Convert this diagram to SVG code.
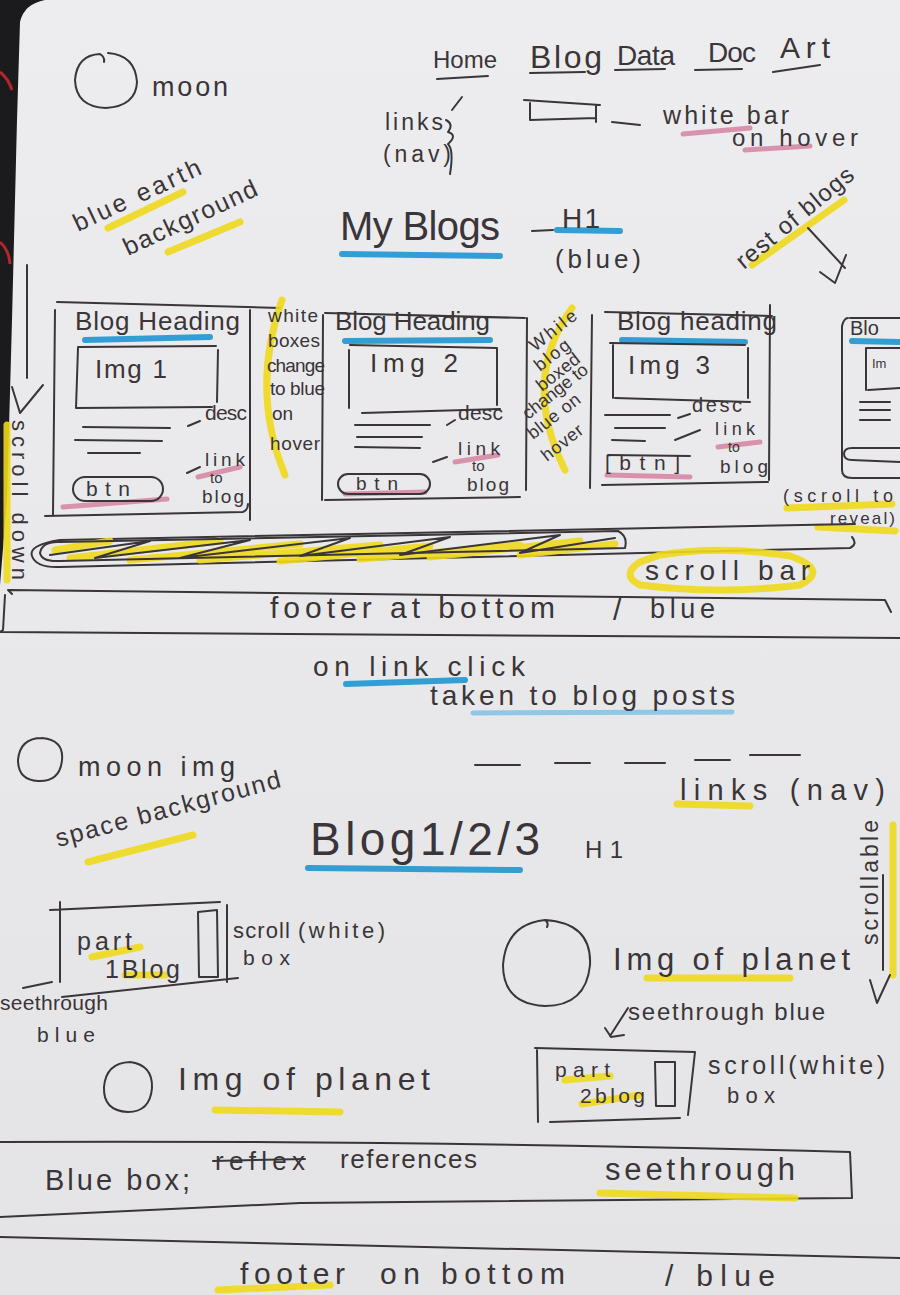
<svg xmlns="http://www.w3.org/2000/svg" width="900" height="1295" viewBox="0 0 900 1295">
  <defs>
    <linearGradient id="paper" x1="0" y1="0" x2="0" y2="1">
      <stop offset="0" stop-color="#ededef"/>
      <stop offset="1" stop-color="#e4e4e6"/>
    </linearGradient>
    <style>
      .ink{fill:none;stroke:#3a3538;stroke-width:2;stroke-linecap:round;stroke-linejoin:round}
      .t{font-family:"Liberation Sans","DejaVu Sans",sans-serif;fill:#3a3538}
      .hy{fill:none;stroke:#f0d81c;stroke-width:7;stroke-linecap:round;opacity:.9}
      .hb{fill:none;stroke:#1e96d2;stroke-width:6;stroke-linecap:round;opacity:.9}
      .hl{fill:none;stroke:#7dc2e3;stroke-width:5;stroke-linecap:round;opacity:.85}
      .hp{fill:none;stroke:#d47c9c;stroke-width:5;stroke-linecap:round;opacity:.8}
    </style>
  </defs>

  <!-- paper and table edge -->
  <rect width="900" height="1295" fill="url(#paper)"/>
  <path d="M0 0 L45 0 Q24 4 20 22 L17 120 L12 320 L7 500 L0 585 Z" fill="#1b1a1c"/>
  <path d="M0 72 q8 6 12 18 M0 242 q9 8 10 22" stroke="#b3262b" stroke-width="3" fill="none"/>

  <!-- header: moon + nav -->
  <g id="moon-top">
    <path class="ink" d="M108 53 Q135 55 137 82 Q136 106 106 108 Q76 107 75 80 Q77 55 100 54 q5 3 4 8"/>
    <text class="t" x="152" y="96" font-size="27" textLength="76">moon</text>
  </g>
  <g id="nav">
    <text class="t" x="433" y="68" font-size="24" textLength="64">Home</text>
    <path class="ink" d="M437 79 L488 76"/>
    <text class="t" x="530" y="68" font-size="32" textLength="72">Blog</text>
    <path class="ink" d="M530 73 L585 72"/>
    <text class="t" x="617" y="65" font-size="28" textLength="58">Data</text>
    <path class="ink" d="M615 70 L665 69"/>
    <text class="t" x="708" y="62" font-size="28" textLength="48">Doc</text>
    <path class="ink" d="M695 70 L742 69"/>
    <text class="t" x="780" y="58" font-size="30" textLength="50">Art</text>
    <path class="ink" d="M773 72 L820 65"/>
  </g>
  <g id="nav-label">
    <path class="ink" d="M462 97 L452 110 M446 120 q8 4 2 12 q10 3 0 12 q6 6 2 30"/>
    <text class="t" x="385" y="130" font-size="23" textLength="58">links</text>
    <text class="t" x="383" y="162" font-size="23" textLength="68">(nav)</text>
  </g>
  <g id="hover-bar">
    <path class="ink" d="M524 100 L600 105 M530 103 L530 120 L596 118 M596 105 L596 122 M612 122 L640 125"/>
    <path class="hp" d="M683 134 L750 128 M745 150 L810 146"/>
    <text class="t" x="663" y="124" font-size="25" textLength="126">white bar</text>
    <text class="t" x="732" y="146" font-size="24" textLength="126">on hover</text>
  </g>
  <g id="earth-note">
    <path class="hy" d="M108 228 L183 192 M168 252 L240 222"/>
    <text class="t" font-size="25" textLength="138" transform="translate(78 232) rotate(-25)">blue earth</text>
    <text class="t" font-size="25" textLength="145" transform="translate(128 256) rotate(-25)">background</text>
  </g>
  <g id="title">
    <path class="hb" d="M342 254 L500 256" stroke-width="7"/>
    <text class="t" x="340" y="240" font-size="40" textLength="160">My Blogs</text>
    <path class="ink" d="M532 231 L553 230"/>
    <path class="hb" d="M557 230 L620 231"/>
    <text class="t" x="562" y="228" font-size="28" textLength="38">H1</text>
    <text class="t" x="555" y="268" font-size="26" textLength="86">(blue)</text>
  </g>
  <g id="rest-note">
    <path class="hy" d="M752 265 L844 200"/>
    <text class="t" font-size="24" textLength="145" transform="translate(744 270) rotate(-39.6)">rest of blogs</text>
  </g>

  <!-- blog cards row -->
  <g id="card-1">
    <path class="ink" d="M57 302 L280 308 M55 310 L53 515 M45 516 L243 512 q5 -2 5 -8 M250 310 L250 520"/>
    <path class="hb" d="M85 340 L210 337"/>
    <text class="t" x="75" y="330" font-size="26" textLength="165">Blog Heading</text>
    <path class="ink" d="M78 347 L216 346 M218 350 L217 402 M78 348 L76 408 L212 407"/>
    <text class="t" x="95" y="378" font-size="26" textLength="72">Img 1</text>
    <path class="ink" d="M83 427 L170 428 M75 440 L162 441 M88 453 L140 453"/>
    <path class="ink" d="M188 426 L200 421"/>
    <text class="t" x="205" y="420" font-size="21" textLength="42">desc</text>
    <path class="hp" d="M63 507 L167 499" stroke-width="6"/>
    <rect class="ink" x="73" y="477" width="90" height="24" rx="12"/>
    <text class="t" x="86" y="496" font-size="21" textLength="44">btn</text>
    <path class="ink" d="M187 473 L200 467"/>
    <path class="hp" d="M198 477 L240 467"/>
    <text class="t" x="205" y="466" font-size="19" textLength="40">link</text>
    <text class="t" x="210" y="483" font-size="15">to</text>
    <text class="t" x="202" y="503" font-size="19" textLength="42">blog</text>
  </g>
  <g id="note-1">
    <path class="hy" d="M282 300 Q250 390 285 475" stroke-width="5"/>
    <text class="t" x="268" y="322" font-size="19" textLength="50">white</text>
    <text class="t" x="268" y="347" font-size="19" textLength="52">boxes</text>
    <text class="t" x="267" y="372" font-size="19" textLength="58">change</text>
    <text class="t" x="270" y="395" font-size="19" textLength="55">to blue</text>
    <text class="t" x="272" y="420" font-size="19">on</text>
    <text class="t" x="270" y="450" font-size="19" textLength="50">hover</text>
  </g>
  <g id="card-2">
    <path class="ink" d="M323 315 L322 500 M325 313 L525 318 M527 318 L526 490 M325 500 L520 497"/>
    <path class="hb" d="M345 341 L490 340"/>
    <text class="t" x="335" y="330" font-size="26" textLength="155">Blog Heading</text>
    <path class="ink" d="M350 345 L497 348 L497 405 M349 350 L349 408"/>
    <text class="t" x="370" y="372" font-size="26" textLength="88">Img 2</text>
    <path class="ink" d="M362 413 L500 409 M355 425 L430 425 M357 437 L422 437 M355 447 L420 448"/>
    <path class="ink" d="M447 425 L455 420"/>
    <text class="t" x="458" y="420" font-size="21" textLength="45">desc</text>
    <path class="ink" d="M433 462 L447 457"/>
    <path class="hp" d="M455 462 L498 455"/>
    <text class="t" x="458" y="455" font-size="19" textLength="42">link</text>
    <text class="t" x="472" y="471" font-size="15">to</text>
    <text class="t" x="467" y="491" font-size="19" textLength="42">blog</text>
    <path class="hp" d="M345 494 L425 492"/>
    <rect class="ink" x="338" y="474" width="92" height="20" rx="10"/>
    <text class="t" x="356" y="490" font-size="19" textLength="42">btn</text>
  </g>
  <g id="note-2">
    <path class="hy" d="M572 308 Q520 380 565 470" stroke-width="5"/>
    <g class="t" font-size="18">
      <text textLength="55" transform="translate(535 352) rotate(-38)">While</text>
      <text textLength="40" transform="translate(540 372) rotate(-38)">blog</text>
      <text textLength="50" transform="translate(542 392) rotate(-38)">boxed</text>
      <text textLength="78" transform="translate(528 420) rotate(-38)">change to</text>
      <text textLength="62" transform="translate(533 440) rotate(-38)">blue on</text>
      <text textLength="48" transform="translate(547 462) rotate(-38)">hover</text>
    </g>
  </g>
  <g id="card-3">
    <path class="ink" d="M592 315 L590 488 M605 312 L772 316 M770 305 L769 480 M602 485 L768 482"/>
    <path class="hb" d="M622 340 L745 342"/>
    <text class="t" x="617" y="330" font-size="26" textLength="160">Blog heading</text>
    <path class="ink" d="M610 343 L745 345 M613 345 L613 398 M748 348 L748 398 M615 398 L750 402"/>
    <text class="t" x="628" y="374" font-size="26" textLength="82">Img 3</text>
    <path class="ink" d="M605 415 L670 415 M615 428 L665 428 M612 440 L645 441"/>
    <path class="ink" d="M678 418 L690 414"/>
    <text class="t" x="692" y="412" font-size="20" textLength="50">desc</text>
    <path class="ink" d="M675 440 L700 430"/>
    <path class="hp" d="M718 447 L760 442"/>
    <text class="t" x="715" y="435" font-size="18" textLength="40">link</text>
    <text class="t" x="728" y="452" font-size="14">to</text>
    <text class="t" x="720" y="473" font-size="19" textLength="48">blog</text>
    <path class="ink" d="M608 455 L690 456"/>
    <path class="hp" d="M607 475 L690 477"/>
    <text class="t" x="605" y="470" font-size="21" textLength="75">[btn]</text>
  </g>
  <g id="card-4">
    <path class="ink" d="M848 318 q-4 0 -6 8 L842 470 q0 8 10 8 L900 478 M850 318 L900 318"/>
    <path class="hb" d="M852 341 L900 342"/>
    <text class="t" x="850" y="335" font-size="20">Blo</text>
    <path class="ink" d="M866 348 L900 348 M866 348 L866 390 M868 390 L900 388"/>
    <text class="t" x="872" y="368" font-size="13">Im</text>
    <path class="ink" d="M860 402 L890 402 M860 410 L890 410 M860 420 L890 420 M900 448 L852 448 q-8 0 -8 6 q0 6 8 6 L900 462"/>
  </g>
  <g id="reveal-note">
    <path class="hy" d="M787 508 L892 504 M818 527 L895 531"/>
    <text class="t" x="783" y="502" font-size="18" textLength="110">(scroll to</text>
    <text class="t" x="830" y="524" font-size="17" textLength="65">reveal)</text>
  </g>
  <g id="scroll-down">
    <path class="hy" d="M7 425 L7 580"/>
    <text class="t" font-size="22" textLength="160" transform="translate(12 420) rotate(90)">scroll down</text>
  </g>

  <!-- horizontal scroll bar -->
  <g id="scrollbar">
    <path class="ink" d="M855 524 L60 540 Q28 545 32 556 Q36 568 60 567 L850 548 Q858 544 852 537"/>
    <path class="hy" d="M55 550 L110 541 M70 558 L220 541 M130 560 L300 544 M200 560 L380 545 M280 561 L430 546 M360 559 L520 545 M430 557 L580 541 M520 555 L615 544" stroke-width="8"/>
    <path class="ink" d="M50 555 L150 541 L95 558 L250 540 L180 558 L350 538 L300 556 L450 537 L400 555 L560 535 L520 553 L615 538" stroke-width="1.5"/>
    <path class="ink" d="M40 553 Q42 541 60 542 L618 531 Q628 536 625 548 L60 561 Q42 562 40 553 Z"/>
    <path class="hy" d="M660 555 Q720 545 790 556 Q830 570 800 585 Q720 595 640 585 Q620 575 640 562 Z" stroke-width="5"/>
    <text class="t" x="645" y="580" font-size="28" textLength="165">scroll bar</text>
  </g>
  <g id="footer-1">
    <path class="ink" d="M12 594 L8 590 L885 600 L891 612 M5 595 L3 630 L0 632 L900 638"/>
    <text class="t" x="270" y="618" font-size="30" textLength="285">footer at bottom</text>
    <text class="t" x="613" y="620" font-size="30">/</text>
    <text class="t" x="650" y="618" font-size="27" textLength="65">blue</text>
  </g>
  <g id="link-note">
    <path class="hb" d="M346 684 L465 680" stroke-width="4"/>
    <path class="hl" d="M473 713 L732 712"/>
    <text class="t" x="313" y="676" font-size="28" textLength="212">on link click</text>
    <text class="t" x="430" y="705" font-size="28" textLength="305">taken to blog posts</text>
  </g>

  <!-- blog post page -->
  <g id="moon-img">
    <path class="ink" d="M42 738 Q64 740 62 760 Q60 782 38 781 Q18 780 18 760 Q20 738 42 738"/>
    <text class="t" x="78" y="776" font-size="27" textLength="157">moon img</text>
  </g>
  <g id="space-note">
    <path class="hy" d="M88 862 L193 835"/>
    <text class="t" font-size="25" textLength="232" transform="translate(58 847) rotate(-15)">space background</text>
  </g>
  <g id="post-nav">
    <path class="ink" d="M475 765 L520 765 M555 763 L590 763 M625 763 L665 763 M695 760 L730 760 M750 755 L800 755"/>
    <path class="hy" d="M677 804 L750 806"/>
    <text class="t" x="680" y="800" font-size="29" textLength="205">links (nav)</text>
  </g>
  <g id="post-title">
    <path class="hb" d="M308 868 L520 870" stroke-width="7"/>
    <text class="t" x="310" y="855" font-size="46" textLength="230">Blog1/2/3</text>
    <text class="t" x="585" y="858" font-size="24" textLength="38">H1</text>
  </g>
  <g id="scrollable-note">
    <path class="hy" d="M893 825 L893 975"/>
    <text class="t" font-size="23" textLength="125" transform="translate(878 945) rotate(-90)">scrollable</text>
  </g>
  <g id="part-1">
    <path class="ink" d="M50 910 L220 902 M60 902 L60 982 M62 997 L238 978 M227 905 L227 982 M23 988 L52 982"/>
    <path class="ink" d="M198 912 L217 910 L218 977 L199 977 Z"/>
    <path class="hy" d="M92 957 L140 947 M125 975 L165 975"/>
    <text class="t" x="77" y="950" font-size="25" textLength="55">part</text>
    <text class="t" x="105" y="978" font-size="25" textLength="75">1Blog</text>
    <text class="t" x="233" y="938" font-size="22" textLength="57">scroll</text>
    <text class="t" x="298" y="938" font-size="22" textLength="87">(white)</text>
    <text class="t" x="243" y="965" font-size="21" textLength="47">box</text>
    <text class="t" x="0" y="1010" font-size="21" textLength="108">seethrough</text>
    <text class="t" x="37" y="1042" font-size="21" textLength="58">blue</text>
  </g>
  <g id="planet-1">
    <path class="ink" d="M545 920 Q592 923 590 965 Q586 1006 545 1006 Q503 1004 503 965 Q506 924 545 920 q4 3 2 7"/>
    <path class="hy" d="M647 978 L790 978"/>
    <text class="t" x="613" y="970" font-size="31" textLength="237">Img of planet</text>
    <text class="t" x="628" y="1020" font-size="24" textLength="197">seethrough blue</text>
  </g>
  <g id="part-2">
    <path class="ink" d="M535 1048 L695 1052 M537 1050 L538 1122 M550 1122 L680 1118 M695 1052 L688 1115"/>
    <path class="ink" d="M655 1062 L675 1062 L675 1106 L656 1106 Z"/>
    <path class="hy" d="M565 1080 L610 1076 M582 1104 L640 1095"/>
    <text class="t" x="555" y="1077" font-size="21" textLength="55">part</text>
    <text class="t" x="580" y="1103" font-size="21" textLength="65">2blog</text>
    <text class="t" x="708" y="1074" font-size="25" textLength="177">scroll(white)</text>
    <text class="t" x="727" y="1103" font-size="22" textLength="48">box</text>
  </g>
  <g id="planet-2">
    <path class="ink" d="M130 1062 Q153 1065 152 1088 Q150 1112 128 1112 Q103 1111 104 1087 Q106 1063 130 1062"/>
    <path class="hy" d="M215 1110 L340 1112"/>
    <text class="t" x="178" y="1090" font-size="32" textLength="252">Img of planet</text>
  </g>
  <g id="references-box">
    <path class="ink" d="M0 1142 Q400 1140 850 1152 L852 1198 L300 1203 L0 1217"/>
    <text class="t" x="45" y="1190" font-size="29" textLength="145">Blue box;</text>
    <text class="t" x="215" y="1170" font-size="26" textLength="90">reflex</text>
    <path class="ink" d="M213 1161 L305 1159"/>
    <text class="t" x="340" y="1168" font-size="26" textLength="137">references</text>
    <path class="hy" d="M600 1193 L795 1198"/>
    <text class="t" x="605" y="1180" font-size="31" textLength="190">seethrough</text>
  </g>
  <g id="footer-2">
    <path class="ink" d="M0 1237 L900 1258"/>
    <path class="hy" d="M218 1290 L330 1285"/>
    <text class="t" x="240" y="1284" font-size="30" textLength="105">footer</text>
    <text class="t" x="380" y="1284" font-size="30" textLength="185">on bottom</text>
    <text class="t" x="665" y="1286" font-size="30" textLength="110">/ blue</text>
  </g>

  <!-- arrows -->
  <g id="connectors" class="ink">
    <path d="M808 228 L845 268 M820 272 L835 283 L846 255"/>
    <path d="M27 265 L27 378 M12 387 L20 413 L43 385"/>
    <path d="M883 875 L883 970 M870 980 L877 1003 L890 975"/>
    <path d="M628 1008 L610 1036 M605 1028 L611 1037 L624 1035"/>
  </g>
</svg>
